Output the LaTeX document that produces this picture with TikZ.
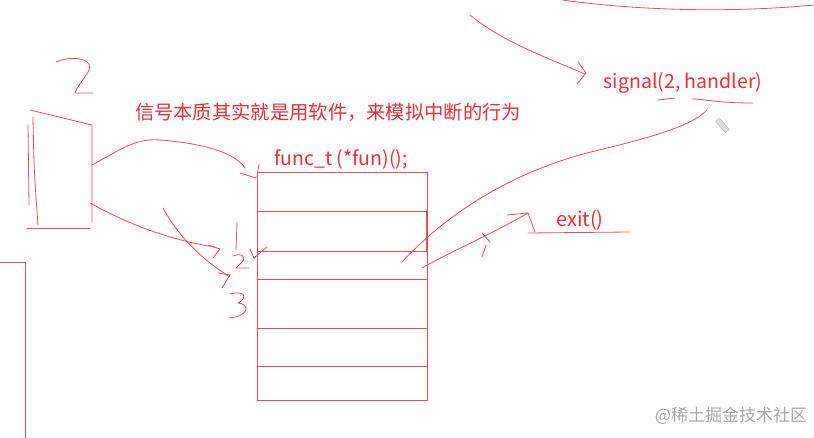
\documentclass[tikz,border=0pt]{standalone}
\usepackage{fontspec}
\setmainfont{Noto Sans CJK SC}
\usetikzlibrary{calc}
\definecolor{inkred}{RGB}{224,80,92}
\definecolor{txtred}{RGB}{226,48,58}

\begin{document}
\begin{tikzpicture}[x=1pt,y=-1pt,
  ink/.style={inkred, line width=0.8pt, line cap=round, line join=round},
  lbl/.style={txtred, inner sep=0pt}]
\useasboundingbox (0,0) rectangle (814,438);

% texts
\node[lbl, font=\fontsize{19.3}{21}\selectfont] (note) at (328,112) {信号本质其实就是用软件，来模拟中断的行为};
\node[lbl, font=\fontsize{19.5}{21}\selectfont] (decl) at (341,159) {func\_t (*fun)();};
\node[lbl, font=\fontsize{19.5}{21}\selectfont] (sig) at (683,83) {signal(2, handler)};
\node[lbl, font=\fontsize{20}{22}\selectfont] (ex) at (580,220) {exit()};
\node[gray!70, inner sep=0pt, font=\fontsize{17}{19}\selectfont] (mark) at (731,416) {@稀土掘金技术社区};

% table of handlers
\node[draw=inkred, line width=0.8pt, minimum width=170pt, minimum height=228pt,
  anchor=north west, inner sep=0pt] (tab) at (257,172) {};
\foreach \r in {211,251,279,328,366} \draw[ink] (257,\r) -- (427,\r);
\draw[ink, line width=1.6pt] (427,211) -- (427,251);

% left figure
\draw[ink] (30,110) -- (92,125) -- (92,222);
\draw[ink] (33,117) .. controls (34,170) .. (38,225);
\draw[ink] (28,125) -- (29,205);
\draw[ink] (27,228) -- (90,228);
\draw[ink] (56,62) .. controls (75,54) and (96,60) .. (88,72) .. controls (82,82) and (76,88) .. (75,93) -- (93,93);
\draw[ink] (0,262) -- (25,262) -- (25,438);

% links from the figure to the table
\coordinate (src1) at (92,165);
\coordinate (src2) at (90,203);
\draw[ink] (src1) .. controls (120,150) and (135,138) .. (160,140) .. controls (200,143) and (235,152) .. (245,168);
\draw[ink] (240,173) -- (256,178);
\draw[ink] (259,164) -- (257,177);
\draw[ink] (src2) .. controls (130,225) and (170,240) .. (215,247);
\draw[ink] (163,208) .. controls (175,230) and (195,255) .. (230,277);

% scribbled numbers
\draw[ink] (208,245) -- (220,249) -- (213,258);
\draw[ink] (218,273) -- (230,275) -- (222,288);
\draw[ink] (237,222) -- (236,250);
\draw[ink] (233,256) .. controls (242,252) and (248,258) .. (240,264) -- (236,268) -- (249,268);
\draw[ink] (250,249) -- (254,258) -- (267,247);
\draw[ink] (230,294) .. controls (245,290) and (248,298) .. (238,303) .. controls (250,304) and (250,316) .. (229,318);

% signal side
\draw[ink] (562,0) .. controls (650,12) and (740,12) .. (814,5);
\draw[ink] (470,15) .. controls (500,40) and (540,55) .. (585,74);
\draw[ink] (578,62) -- (586,73) -- (577,84);
\draw[ink] (658,100) -- (675,98);
\draw[ink] (692,99) .. controls (705,99) and (715,103) .. (753,103);
\draw[ink] (707,110) .. controls (690,128) and (640,140) .. (587,153)
  .. controls (530,168) and (460,200) .. (402,262);
\draw[gray!60, fill=gray!25, rotate around={-50:(722,125)}] (715,122.5) rectangle (730,127.5);

% exit arrow
\draw[ink] (422,268) .. controls (450,252) and (490,235) .. (528,213);
\draw[ink] (507,215) -- (528,213) -- (535,232);
\draw[ink] (482,233) -- (490,242);
\draw[ink] (482,257) -- (486,245);
\draw[ink] (528,233) -- (630,232);

\end{tikzpicture}
\end{document}
